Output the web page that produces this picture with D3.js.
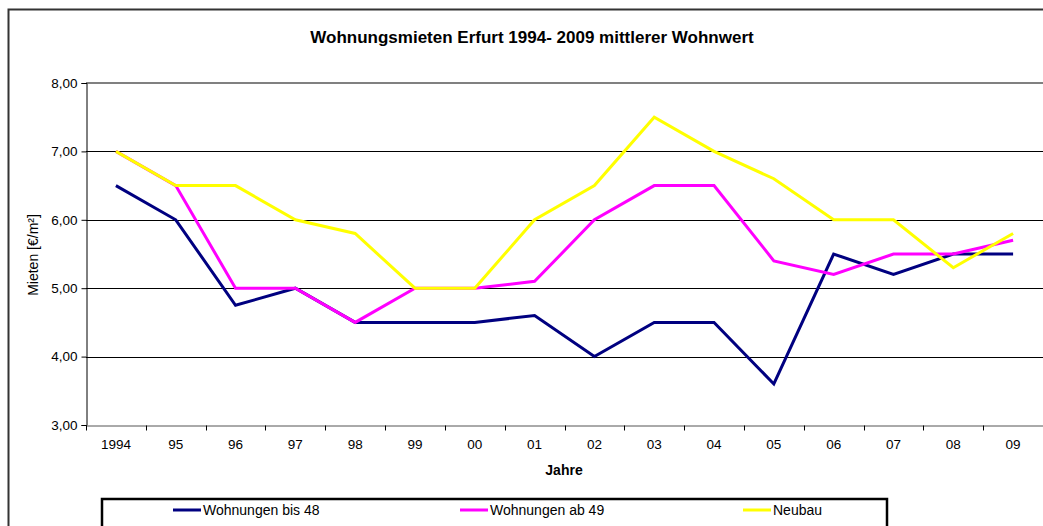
<!DOCTYPE html>
<html>
<head>
<meta charset="utf-8">
<script src="https://cdn.jsdelivr.net/npm/d3@7"></script>
<style>
  body { margin: 0; background: #fff; }
  text { font-family: "Liberation Sans", Arial, sans-serif; }
</style>
</head>
<body>
<div class="chart"></div>
<script>
// Wohnungsmieten Erfurt line chart
let years = ["1994", "95", "96", "97", "98", "99", "00", "01", "02", "03", "04", "05", "06", "07", "08", "09"];
let bis48 = [6.5, 6.0, 4.75, 5.0, 4.5, 4.5, 4.5, 4.6, 4.0, 4.5, 4.5, 3.6, 5.5, 5.2, 5.5, 5.5];
let ab49 = [7.0, 6.5, 5.0, 5.0, 4.5, 5.0, 5.0, 5.1, 6.0, 6.5, 6.5, 5.4, 5.2, 5.5, 5.5, 5.7];
let neubau = [7.0, 6.5, 6.5, 6.0, 5.8, 5.0, 5.0, 6.0, 6.5, 7.5, 7.0, 6.6, 6.0, 6.0, 5.3, 5.8];
let seriesNames = ["Wohnungen bis 48", "Wohnungen ab 49", "Neubau"];
let yTicks = [3, 4, 5, 6, 7, 8];

let svgWidth = 1043;
let svgHeight = 526;

let margin = { top: 83, right: 0, bottom: 101, left: 86 };
let width = svgWidth - margin.left - margin.right;
let height = svgHeight - margin.top - margin.bottom;

let svg = d3.select(".chart")
    .append("svg")
    .attr("width", svgWidth)
    .attr("height", svgHeight);

// outer chart frame
svg.append("rect")
    .attr("x", 8.5)
    .attr("y", 9.5)
    .attr("width", svgWidth + 20)
    .attr("height", svgHeight + 20)
    .attr("fill", "none")
    .attr("stroke", "#333")
    .attr("stroke-width", 2);

let chartGroup = svg.append("g")
    .attr("transform", `translate(${margin.left}, ${margin.top})`);

let x = d3.scaleBand()
    .domain(years)
    .range([0, width]);

let y = d3.scaleLinear()
    .domain([3, 8])
    .range([height, 0]);

// gridlines
chartGroup.append("g")
    .selectAll("line")
    .data(yTicks.slice(1, -1))
    .enter()
    .append("line")
    .attr("x1", 0)
    .attr("x2", width)
    .attr("y1", d => Math.round(y(d)) + 0.5)
    .attr("y2", d => Math.round(y(d)) + 0.5)
    .attr("stroke", "#000")
    .attr("stroke-width", 1);

// plot area top border
chartGroup.append("line")
    .attr("x1", 0)
    .attr("x2", width)
    .attr("y1", 0)
    .attr("y2", 0)
    .attr("stroke", "#808080")
    .attr("stroke-width", 2);

// y axis
let leftAxis = d3.axisLeft(y)
    .tickValues(yTicks)
    .tickSize(5)
    .tickPadding(4)
    .tickFormat(d => d3.format(".2f")(d).replace(".", ","));

let yAxis = chartGroup.append("g")
    .attr("transform", "translate(0.5, 0)")
    .call(leftAxis);
yAxis.select(".domain").attr("stroke", "#000");
yAxis.selectAll(".tick line").attr("stroke", "#000");
yAxis.selectAll("text")
    .attr("font-size", "13.5px")
    .attr("fill", "#000")
    .style("font-family", "'Liberation Sans', Arial, sans-serif");

// x axis with ticks between categories
let bottomAxis = d3.axisBottom(x)
    .tickSize(0)
    .tickPadding(14);

let xAxis = chartGroup.append("g")
    .attr("transform", `translate(0, ${height + 0.5})`)
    .call(bottomAxis);
xAxis.select(".domain").attr("stroke", "#555");
xAxis.selectAll("text")
    .attr("font-size", "13.5px")
    .attr("fill", "#000")
    .style("font-family", "'Liberation Sans', Arial, sans-serif");

xAxis.selectAll(".sep")
    .data(years)
    .enter()
    .append("line")
    .attr("x1", d => Math.round(x(d)) + 0.5)
    .attr("x2", d => Math.round(x(d)) + 0.5)
    .attr("y1", 0)
    .attr("y2", 5)
    .attr("stroke", "#000");

// lines
let colors = ["#000080", "#ff00ff", "#ffff00"];
let allSeries = [bis48, ab49, neubau];

let line = d3.line()
    .x((d, i) => x(years[i]) + x.bandwidth() / 2)
    .y(d => y(d));

allSeries.forEach(function (values, i) {
    chartGroup.append("path")
        .datum(values)
        .attr("d", line)
        .attr("fill", "none")
        .attr("stroke", colors[i])
        .attr("stroke-width", 3)
        .attr("stroke-linejoin", "miter");
});

// title
svg.append("text")
    .attr("x", 532)
    .attr("y", 43)
    .attr("text-anchor", "middle")
    .attr("font-size", "17px")
    .attr("font-weight", "bold")
    .text("Wohnungsmieten Erfurt 1994- 2009 mittlerer Wohnwert");

// axis titles
svg.append("text")
    .attr("transform", "rotate(-90)")
    .attr("x", -255)
    .attr("y", 38)
    .attr("text-anchor", "middle")
    .attr("font-size", "14px")
    .text("Mieten [€/m²]");

svg.append("text")
    .attr("x", 564)
    .attr("y", 475)
    .attr("text-anchor", "middle")
    .attr("font-size", "14px")
    .attr("font-weight", "bold")
    .text("Jahre");

// legend
svg.append("rect")
    .attr("x", 102)
    .attr("y", 499)
    .attr("width", 785)
    .attr("height", 60)
    .attr("fill", "#fff")
    .attr("stroke", "#000")
    .attr("stroke-width", 2.5);

let legendX = [173, 460, 743];
let legend = svg.selectAll(".legend")
    .data(seriesNames)
    .enter()
    .append("g")
    .attr("transform", (d, i) => `translate(${legendX[i]}, 510)`);

legend.append("line")
    .attr("x1", 0)
    .attr("x2", 28)
    .attr("y1", 0)
    .attr("y2", 0)
    .attr("stroke", (d, i) => colors[i])
    .attr("stroke-width", 3);

legend.append("text")
    .attr("x", 30)
    .attr("y", 5)
    .attr("font-size", "14px")
    .text(d => d);
</script>
</body>
</html>
